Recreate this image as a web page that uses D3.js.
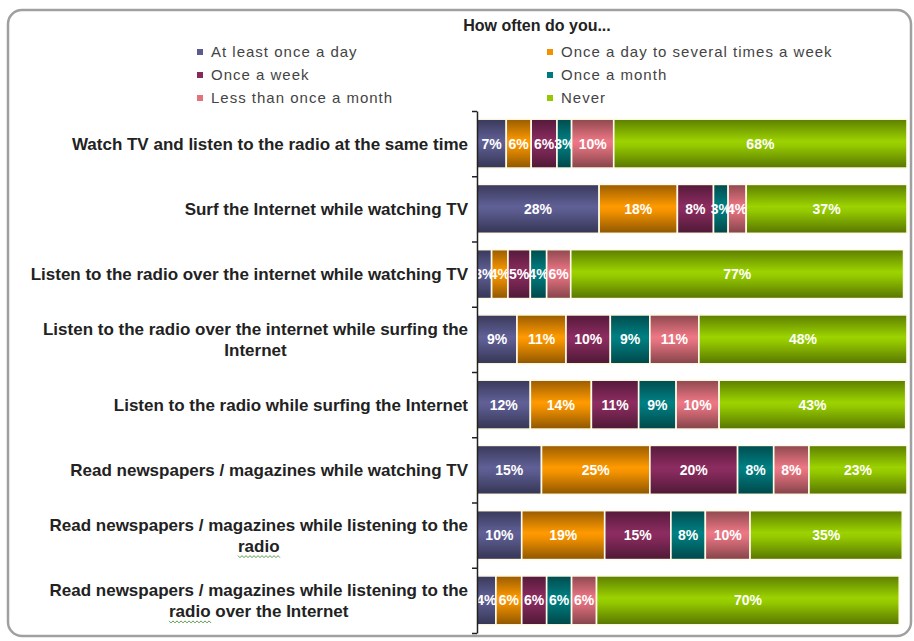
<!DOCTYPE html>
<html>
<head>
<meta charset="utf-8">
<script src="https://cdn.jsdelivr.net/npm/d3@7"></script>
<style>
  body { margin: 0; background: #fff; }
  svg { font-family: Arial, "Liberation Sans", sans-serif; }
</style>
</head>
<body>
<div id="chart"></div>
<script>
// frame size
const FRAME_WIDTH = 914;
const FRAME_HEIGHT = 641;

// categories (one line per array entry, "\n" splits lines)
const CATEGORIES = [
  "Watch TV and listen to the radio at the same time",
  "Surf the Internet while watching TV",
  "Listen to the radio over the internet while watching TV",
  "Listen to the radio over the internet while surfing the\nInternet",
  "Listen to the radio while surfing the Internet",
  "Read newspapers / magazines while watching TV",
  "Read newspapers / magazines while listening to the\nradio",
  "Read newspapers / magazines while listening to the\nradio over the Internet"
];

// series names
const SERIES = [
  "At least once a day",
  "Once a day to several times a week",
  "Once a week",
  "Once a month",
  "Less than once a month",
  "Never"
];

// series values (percent)
const AT_LEAST_DAILY = [6.8, 28.4, 3.4, 9.3, 12.4, 15.0, 10.4, 4.4];
const SEVERAL_WEEKLY = [5.8, 18.2, 3.8, 11.4, 14.2, 25.2, 19.3, 6.0];
const WEEKLY         = [6.0, 8.4, 5.2, 10.3, 11.0, 20.4, 15.4, 5.8];
const MONTHLY        = [3.4, 3.4, 3.8, 9.2, 8.7, 8.4, 8.0, 5.8];
const LESS_MONTHLY   = [9.8, 4.2, 5.6, 11.4, 10.0, 8.2, 10.4, 5.8];
const NEVER          = [68.2, 37.4, 77.4, 48.4, 43.4, 22.8, 35.4, 70.4];

const SERIES_VALUES = [AT_LEAST_DAILY, SEVERAL_WEEKLY, WEEKLY, MONTHLY, LESS_MONTHLY, NEVER];
const COLORS = ["#5b5b8f", "#f39200", "#862a5c", "#00797c", "#e2727e", "#94c800"];

// table for the stack
const TABLE = CATEGORIES.map((c, i) => {
  const row = {category: c};
  SERIES.forEach((s, j) => { row[s] = SERIES_VALUES[j][i]; });
  return row;
});

const svg = d3.select("#chart")
  .append("svg")
    .attr("width", FRAME_WIDTH)
    .attr("height", FRAME_HEIGHT);

// gradients (dark edges, bright middle)
const defs = svg.append("defs");
COLORS.forEach((c, i) => {
  const base = d3.color(c);
  const g = defs.append("linearGradient")
    .attr("id", "grad" + i)
    .attr("x1", 0).attr("y1", 0).attr("x2", 0).attr("y2", 1);
  g.append("stop").attr("offset", "0%").attr("stop-color", base.darker(1.3));
  g.append("stop").attr("offset", "45%").attr("stop-color", base.brighter(0.15));
  g.append("stop").attr("offset", "55%").attr("stop-color", base);
  g.append("stop").attr("offset", "100%").attr("stop-color", base.darker(1.5));
});

// outer frame
svg.append("rect")
  .attr("x", 8).attr("y", 10)
  .attr("width", 903).attr("height", 626)
  .attr("rx", 14)
  .attr("fill", "#fff")
  .attr("stroke", "#a0a0a0")
  .attr("stroke-width", 2.5);

// title
svg.append("text")
  .attr("x", 537).attr("y", 31)
  .attr("text-anchor", "middle")
  .attr("font-size", "16px")
  .attr("font-weight", "bold")
  .attr("fill", "#222")
  .text("How often do you...");

// legend
const legend = svg.append("g");
SERIES.forEach((s, i) => {
  const col = i % 2, row = Math.floor(i / 2);
  const lx = col === 0 ? 197 : 547;
  const ly = 52 + row * 23;
  legend.append("rect")
    .attr("x", lx).attr("y", ly - 3)
    .attr("width", 6).attr("height", 6)
    .attr("fill", COLORS[i]);
  legend.append("text")
    .attr("x", lx + 14).attr("y", ly + 5)
    .attr("font-size", "15px")
    .attr("letter-spacing", "1px")
    .attr("fill", "#444")
    .text(s);
});

// scales
const X_SCALE = d3.scaleLinear().domain([0, 100]).range([477, 907]);
const Y_SCALE = d3.scaleBand()
  .domain(CATEGORIES)
  .range([111, 633])
  .paddingInner(0.25)
  .paddingOuter(0.125);

// stacked bars
const stacked = d3.stack().keys(SERIES)(TABLE);

const layers = svg.selectAll(".layer")
  .data(stacked)
  .enter()
  .append("g")
    .attr("class", "layer")
    .attr("fill", (d, i) => "url(#grad" + i + ")");

layers.selectAll("rect")
  .data((d) => d)
  .enter()
  .append("rect")
    .attr("x", (d) => X_SCALE(d[0]))
    .attr("y", (d) => Y_SCALE(d.data.category))
    .attr("width", (d) => X_SCALE(d[1]) - X_SCALE(d[0]))
    .attr("height", Y_SCALE.bandwidth())
    .attr("stroke", "#fffbe8")
    .attr("stroke-width", 1.6);

// value labels
layers.selectAll("text")
  .data((d) => d)
  .enter()
  .append("text")
    .attr("x", (d) => (X_SCALE(d[0]) + X_SCALE(d[1])) / 2)
    .attr("y", (d) => Y_SCALE(d.data.category) + Y_SCALE.bandwidth() / 2 + 5)
    .attr("text-anchor", "middle")
    .attr("font-size", "14px")
    .attr("font-weight", "bold")
    .attr("fill", "#fff")
    .text((d) => Math.round(d[1] - d[0]) + "%");

// axis with ticks at band boundaries
const STEP_SCALE = d3.scaleLinear().domain([0, CATEGORIES.length]).range([111, 633]);
svg.append("g")
  .attr("transform", "translate(477,0)")
  .call(d3.axisLeft(STEP_SCALE).tickValues(d3.range(CATEGORIES.length + 1)).tickFormat("").tickSize(5).tickSizeOuter(0))
  .call((g) => g.selectAll("line, path").attr("stroke", "#222").attr("stroke-width", 1.5));

// category labels
const LINE_H = 21;
CATEGORIES.forEach((c) => {
  const lines = c.split("\n");
  const cy = Y_SCALE(c) + Y_SCALE.bandwidth() / 2;
  const texts = lines.map((ln, k) => svg.append("text")
    .attr("y", cy + (k - (lines.length - 1) / 2) * LINE_H + 6)
    .attr("font-size", "17px")
    .attr("font-weight", "bold")
    .attr("fill", "#222")
    .text(ln));
  if (lines.length === 1) {
    texts[0].attr("x", 468).attr("text-anchor", "end");
  } else {
    const maxW = d3.max(texts, (t) => t.node().getComputedTextLength());
    texts.forEach((t) => t.attr("x", 468 - maxW / 2).attr("text-anchor", "middle"));
    // spell-check squiggle under "radio"
    texts.forEach((t) => {
      if (t.text().startsWith("radio")) {
        const n = t.node();
        const x0 = n.getExtentOfChar(0).x;
        const e4 = n.getExtentOfChar(4);
        const x1 = e4.x + e4.width;
        const yy = +t.attr("y") + 4;
        let p = "M" + x0 + "," + yy;
        for (let x = x0, k = 0; x < x1; x += 2, k++) {
          p += " L" + (x + 2) + "," + (yy + (k % 2 === 0 ? 2 : 0));
        }
        svg.append("path")
          .attr("d", p)
          .attr("fill", "none")
          .attr("stroke", "#5d9b4f")
          .attr("stroke-width", 1);
      }
    });
  }
});
</script>
</body>
</html>
